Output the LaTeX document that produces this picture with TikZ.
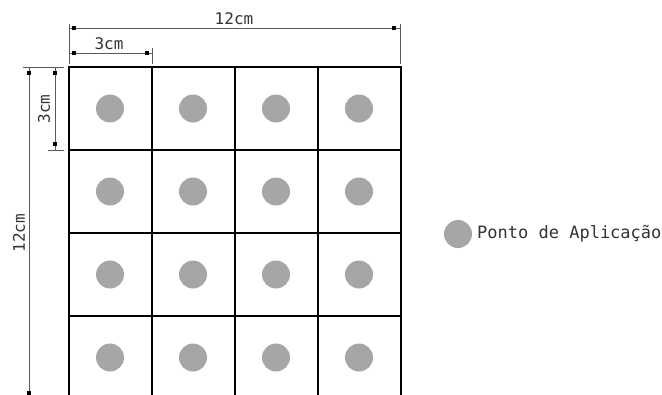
\documentclass[tikz,border=0pt]{standalone}
\usepackage{fontspec}
\setmainfont{DejaVu Sans Mono}

\begin{document}
\begin{tikzpicture}[x=1pt,y=-1pt]

\tikzset{cell/.style = {draw,line width=2pt,minimum size=83pt,inner sep=0pt,outer sep=0pt}}
\tikzset{dot/.style = {circle,fill=black!35,minimum size=28pt,inner sep=0pt}}
\tikzset{dim/.style = {draw=black!65,line width=1pt}}
\tikzset{tick/.style = {fill=black,minimum size=3.5pt,inner sep=0pt}}
\tikzset{dimtext/.style = {font=\fontsize{16}{16}\selectfont,text=black!80,inner sep=0pt}}
\useasboundingbox (0,0) rectangle (662,394);
% cells and points
\foreach \r in {1,...,4}
  \foreach \c in {1,...,4}
  {
    \node[cell] (c\r\c) at ({68.5+83*(\c-0.5)},{67+83*(\r-0.5)}) {};
    \node[dot] (p\r\c) at (c\r\c) {};
  }
% dimension points
\coordinate (ta) at (69,28);
\coordinate (tb) at (400,28);
\coordinate (sa) at (69,53);
\coordinate (sb) at (152,53);
\coordinate (la) at (29,67);
\coordinate (lb) at (29,400);
\coordinate (ma) at (55,67);
\coordinate (mb) at (55,150);
% extension lines
\draw[dim] (69,24) -- (69,64);
\draw[dim] (400,24) -- (400,64);
\draw[dim] (152,48) -- (152,64);
\draw[dim] (23,67) -- (64,67);
\draw[dim] (48,150) -- (64,150);
% dimension lines
\draw[dim] (ta) -- (tb);
\draw[dim] (sa) -- (sb);
\draw[dim] (la) -- (lb);
\draw[dim] (ma) -- (mb);
% ticks
\node[tick] (t1) at (74,28) {};
\node[tick] (t2) at (394,28) {};
\node[tick] (t3) at (74,53) {};
\node[tick] (t4) at (147,53) {};
\node[tick] (t5) at (29,73) {};
\node[tick] (t6) at (29,393) {};
\node[tick] (t7) at (55,73) {};
\node[tick] (t8) at (55,144) {};
% texts
\node[dimtext] (w12) at (234,19) {12cm};
\node[dimtext] (w3) at (109,44) {3cm};
\node[dimtext,rotate=90] (h12) at (19,233) {12cm};
\node[dimtext,rotate=90] (h3) at (44,109) {3cm};
% legend
\node[dot] (key) at (458,234) {};
\node[dimtext,font=\fontsize{17}{17}\selectfont,anchor=west] (keytext) at (477,234) {Ponto de Aplicação};
\end{tikzpicture}
\end{document}
